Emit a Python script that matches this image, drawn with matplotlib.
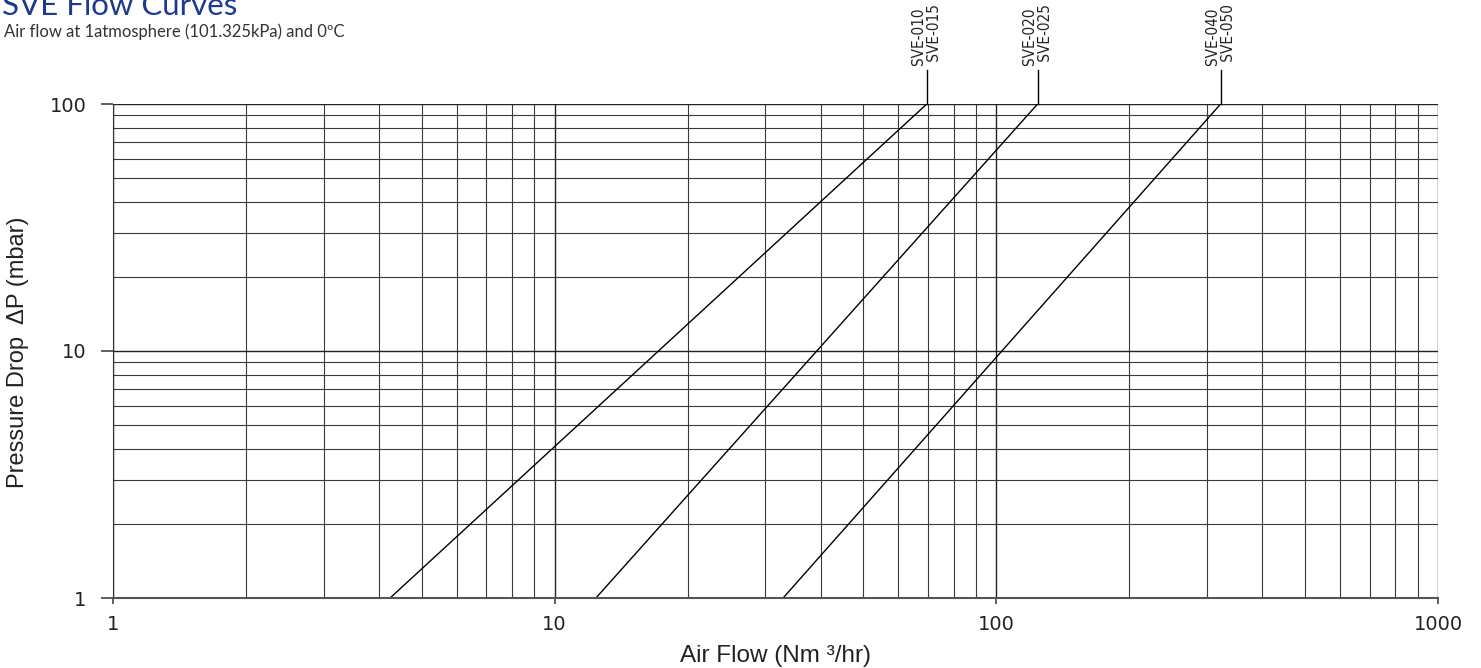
import matplotlib
matplotlib.use("Agg")
import matplotlib.pyplot as plt
import matplotlib.transforms as mtransforms
from matplotlib.ticker import LogLocator, NullFormatter, FixedLocator, FixedFormatter

# data: flow at 1 mbar and at 100 mbar for each curve
models_left = ["SVE-010", "SVE-020", "SVE-040"]
models_right = ["SVE-015", "SVE-025", "SVE-050"]
flow_at_1mbar = [4.24, 12.4, 32.9]
flow_at_100mbar = [69.6, 124.0, 322.0]
dp_ends = [1, 100]

x_ticks = [1, 10, 100, 1000]
y_ticks = [1, 10, 100]

fig = plt.figure(figsize=(14.81, 6.68), dpi=100)
ax = fig.add_axes([113/1481, 1-598/668, (1438-113)/1481, (598-104)/668])

ax.set_xscale("log")
ax.set_yscale("log")
ax.set_xlim(1, 1000)
ax.set_ylim(1, 100)

# grid
ax.grid(True, which="major", color="#222222", linewidth=1.0)
ax.grid(True, which="minor", color="#3a3a3a", linewidth=0.8)
ax.set_axisbelow(True)
ax.xaxis.set_minor_locator(LogLocator(base=10, subs=range(2, 10)))
ax.yaxis.set_minor_locator(LogLocator(base=10, subs=range(2, 10)))
ax.xaxis.set_minor_formatter(NullFormatter())
ax.yaxis.set_minor_formatter(NullFormatter())
ax.xaxis.set_major_locator(FixedLocator(x_ticks))
ax.xaxis.set_major_formatter(FixedFormatter([str(v) for v in x_ticks]))
ax.yaxis.set_major_locator(FixedLocator(y_ticks))
ax.yaxis.set_major_formatter(FixedFormatter([str(v) for v in y_ticks]))
ax.tick_params(which="minor", length=0)
ax.tick_params(axis="y", which="major", length=9, width=1.2, color="#444444",
               labelsize=14, pad=10)
ax.tick_params(axis="x", which="major", length=4, width=1.2, color="#444444",
               labelsize=14, pad=8)
for lab in ax.get_xticklabels() + ax.get_yticklabels():
    lab.set_color("#222222")

for s in ["top", "right"]:
    ax.spines[s].set_visible(False)
ax.spines["left"].set_color("#333333")
ax.spines["bottom"].set_color("#555555")
ax.spines["bottom"].set_linewidth(1.5)

# flow curves
for lo, hi in zip(flow_at_1mbar, flow_at_100mbar):
    ax.plot([lo, hi], dp_ends, color="black", linewidth=1.0)

# leader lines and labels above the chart
trans = mtransforms.blended_transform_factory(ax.transData, fig.transFigure)
lab_font = dict(fontsize=11, family="DejaVu Sans", stretch="condensed",
                color="#222222", rotation=90, va="bottom", transform=trans)
for hi, l1, l2 in zip(flow_at_100mbar, models_left, models_right):
    ax.plot([hi, hi], [100, 137], color="black", linewidth=1.0, clip_on=False)
    ax.text(hi, 1-66/668, l1 + " ", ha="right", **lab_font)
    ax.text(hi, 1-66/668, " " + l2, ha="left", **lab_font)

ax.set_xlabel("Air Flow (Nm \u00b3/hr)", fontsize=17.5, family="Liberation Sans",
              color="#222222", labelpad=8)
fig.text(18/1481, 1-352/668, "Pressure Drop  \u0394P (mbar)", rotation=90,
         ha="center", va="center", fontsize=17, family="Liberation Sans",
         color="#222222")

# title (cut off at the top as in the source) and subtitle
fig.text(2/1481, 1-15/668, "SVE Flow Curves", fontsize=22.5, family="Lato",
         color="#1e3a8a", ha="left", va="baseline")
fig.text(4/1481, 1-32/668, "Air flow at 1atmosphere (101.325kPa) and 0\u00baC",
         fontsize=12, family="Lato", color="#333333",
         ha="left", va="center")

fig.savefig("out.png", dpi=100)
